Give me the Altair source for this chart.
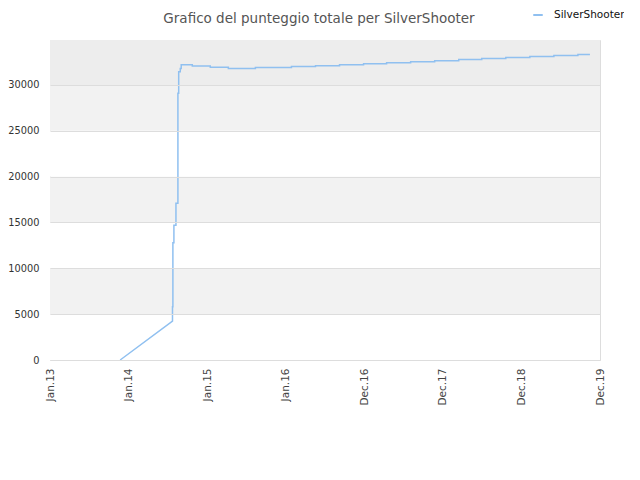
import altair as alt
import pandas as pd

# Time axis: years since Jan 2013 (tick labels are evenly spaced)
tick_pos = [0, 1, 2, 3, 4, 5, 6, 7]
tick_labels = ["Jan.13", "Jan.14", "Jan.15", "Jan.16", "Dec.16", "Dec.17", "Dec.18", "Dec.19"]

# Series
series_name = "SilverShooter"
t_vals = [0.893, 1.559, 1.559, 1.564, 1.564, 1.577, 1.577, 1.603, 1.603, 1.628, 1.628,
          1.638, 1.638, 1.658, 1.658, 1.670, 1.670, 1.811, 1.811, 2.040, 2.040, 2.270,
          2.270, 2.614, 2.614, 3.073, 3.073, 3.379, 3.379, 3.685, 3.685, 3.991, 3.991,
          4.284, 4.284, 4.590, 4.590, 4.896, 4.896, 5.202, 5.202, 5.495, 5.495, 5.801,
          5.801, 6.107, 6.107, 6.413, 6.413, 6.719, 6.719, 6.872]
score_vals = [0, 4250, 5800, 5800, 12800, 12800, 14700, 14700, 17100, 17100, 29100,
              29100, 31450, 31450, 31800, 31800, 32200, 32200, 32070, 32070, 31930, 31930,
              31780, 31780, 31890, 31890, 32000, 32000, 32100, 32100, 32210, 32210, 32320,
              32320, 32430, 32430, 32540, 32540, 32650, 32650, 32760, 32760, 32870, 32870,
              32980, 32980, 33090, 33090, 33200, 33200, 33310, 33310]

# Background bands
band_lo = [0, 5000, 10000, 15000, 20000, 25000, 30000]
band_hi = [5000, 10000, 15000, 20000, 25000, 30000, 34900]
band_col = ["#ffffff", "#f2f2f2", "#ffffff", "#f2f2f2", "#ffffff", "#f2f2f2", "#ededed"]

y_max = 34900
x_max = 7

df = pd.DataFrame({"t": t_vals, "score": score_vals, "order": list(range(len(t_vals))),
                   "name": [series_name] * len(t_vals)})
bands = pd.DataFrame({"lo": band_lo, "hi": band_hi, "col": band_col})

label_expr = "[" + ",".join(f"'{l}'" for l in tick_labels) + "][round(datum.value)]"

xscale = alt.Scale(domain=[0, x_max], nice=False, zero=False)
yscale = alt.Scale(domain=[0, y_max], nice=False)

bg = alt.Chart(bands).mark_rect().encode(
    x=alt.value(0), x2=alt.value(550),
    y=alt.Y("lo:Q", scale=yscale, title=None,
            axis=alt.Axis(values=[0, 5000, 10000, 15000, 20000, 25000, 30000],
                          format="d", grid=True, gridColor="#dddddd", ticks=False,
                          domain=False, labelPadding=11, labelFontSize=9.8, zindex=1,
                          labelColor="#333333", labelFont="DejaVu Sans")),
    y2="hi:Q",
    fill=alt.Fill("col:N", scale=None, legend=None),
)

line = alt.Chart(df).mark_line(strokeWidth=1.5, interpolate="linear").encode(
    x=alt.X("t:Q", scale=xscale, title=None,
            axis=alt.Axis(values=tick_pos, labelExpr=label_expr, labelAngle=-90,
                          grid=False, ticks=False, domain=False, labelPadding=8,
                          labelFontSize=10.5, labelColor="#444444", labelFont="DejaVu Sans")),
    y=alt.Y("score:Q", scale=yscale),
    order="order:Q",
    color=alt.Color("name:N", scale=alt.Scale(range=["#90c0f0"]),
                    legend=alt.Legend(title=None, orient="none", legendX=482, legendY=-31,
                                      symbolType="stroke", symbolSize=90, labelOffset=10,
                                      symbolStrokeWidth=2, labelFontSize=10.5,
                                      labelColor="#111111", labelFont="DejaVu Sans")),
)

chart = alt.layer(bg, line).properties(
    width=550, height=320,
    autosize=alt.AutoSizeParams(type="none"),
    padding={"left": 42, "top": 32, "right": 24, "bottom": 100},
    title=alt.TitleParams("Grafico del punteggio totale per SilverShooter",
                          font="DejaVu Sans", fontSize=13.5, fontWeight="normal",
                          color="#555555", anchor="middle", dx=-6, offset=2, dy=18),
).configure_view(stroke="#dddddd", strokeWidth=1)

chart.save("out.html", embed_options={"renderer": "svg", "actions": False})
